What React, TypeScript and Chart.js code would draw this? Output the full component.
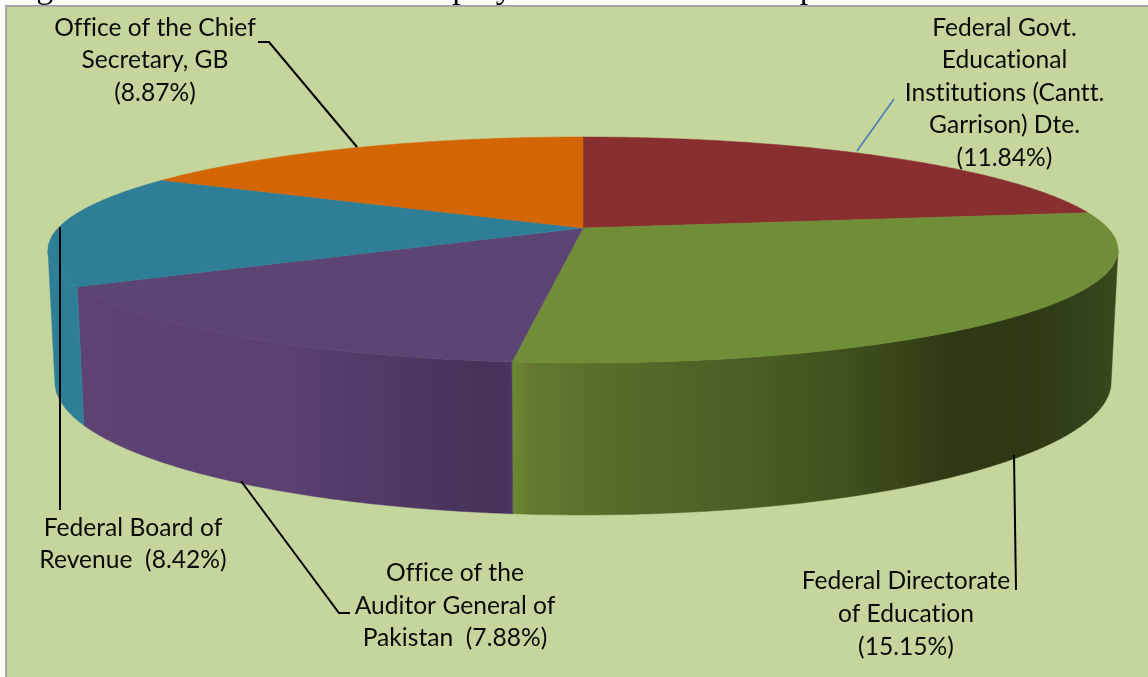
import React, { useEffect, useRef } from "react";
import { Chart, registerables } from "chart.js";

Chart.register(...registerables);

const categories = [
  "Federal Govt. Educational Institutions (Cantt. Garrison) Dte.",
  "Federal Directorate of Education",
  "Office of the Auditor General of Pakistan",
  "Federal Board of Revenue",
  "Office of the Chief Secretary, GB",
];
const shares = [11.84, 15.15, 7.88, 8.42, 8.87];
const topColors = ["#8a2f30", "#708d37", "#5c4474", "#2f7e98", "#d36503"];
const wallStops: [number, string][][] = [
  [[0, "#6a2222"], [1, "#6a2222"]],
  [[0, "#6c8a32"], [0.03, "#64792f"], [0.18, "#566b2a"], [0.39, "#4b5e25"], [0.56, "#3f4f1d"], [0.72, "#2e3a14"], [0.85, "#2c3914"], [0.97, "#36451a"], [1, "#3a4a1c"]],
  [[0, "#5c4374"], [0.5, "#5a4170"], [0.65, "#523b68"], [0.97, "#463258"], [1, "#4d3566"]],
  [[0, "#2f7e98"], [1, "#2f7e98"]],
  [[0, "#a04c02"], [1, "#a04c02"]],
];

type Note = { lines: string[]; cx: number; y: number; lh: number; color: string; path: number[][] };
const notes: Note[] = [
  { lines: ["Federal Govt.", "Educational", "Institutions (Cantt.", "Garrison) Dte.", "(11.84%)"], cx: 1004.5, y: 35.5, lh: 32.6, color: "#4a7ebb", path: [[894, 99], [857, 151]] },
  { lines: ["Federal Directorate", "of Education", "(15.15%)"], cx: 906, y: 589, lh: 33, color: "#000000", path: [[1014, 455], [1016, 590]] },
  { lines: ["Office of the", "Auditor General of", "Pakistan  (7.88%)"], cx: 455, y: 581, lh: 32.5, color: "#000000", path: [[241, 481], [339, 613], [350, 613]] },
  { lines: ["Federal Board of", "Revenue  (8.42%)"], cx: 133, y: 536, lh: 32.3, color: "#000000", path: [[60, 227], [60, 510]] },
  { lines: ["Office of the Chief", "Secretary, GB", "(8.87%)"], cx: 155, y: 35.5, lh: 32.6, color: "#000000", path: [[258, 42], [269, 42], [357, 147]] },
];
const headingWords: [string, number][] = [["Figure", 8], ["Employees", 405], ["Department", 760]];

const BG = "#c4d69c";
const CX = 583;
const K = -0.1946;
const TOP = { a: 524.8, b: 108.7, y0: 228 };
const BOTTOM = { a: 518, b: 128, y0: 356 };
const FONT = "24.6px Lato";

const project = (disc: { a: number; b: number; y0: number }, t: number) => {
  const u = Math.cos(t);
  const v = Math.sin(t);
  const w = 1 + K * v;
  return [CX + (disc.a * u) / w, disc.y0 + (disc.b * v) / w];
};

const pie3d = {
  id: "pie3d",
  beforeDraw(chart: any) {
    const { ctx, width, height } = chart;
    ctx.save();
    ctx.fillStyle = "#ffffff";
    ctx.fillRect(0, 0, width, height);
    ctx.fillStyle = "#a6a6a6";
    ctx.fillRect(5, 5, width - 5, height - 5);
    ctx.fillStyle = BG;
    ctx.fillRect(7, 7, width - 7, height - 7);
    ctx.fillStyle = "#000000";
    ctx.font = '34px "Liberation Serif"';
    ctx.textAlign = "left";
    ctx.textBaseline = "alphabetic";
    ctx.beginPath();
    ctx.rect(0, 0, width, 5.5);
    ctx.clip();
    headingWords.forEach(([w, x]) => ctx.fillText(w, x, -2.5));
    ctx.restore();
  },
  beforeDatasetsDraw(chart: any) {
    const { ctx } = chart;
    const arcs = chart.getDatasetMeta(0).data;
    const silhouette = Math.asin(-K);
    const wallFrom = silhouette;
    const wallTo = Math.PI - silhouette;
    const step = Math.PI / 360;

    ctx.save();
    arcs.forEach((arc: any, i: number) => {
      const { startAngle, endAngle } = arc.getProps(["startAngle", "endAngle"], true);
      const s = Math.max(startAngle, wallFrom);
      const e = Math.min(endAngle, wallTo);
      if (e <= s) return;
      const top: number[][] = [];
      const bot: number[][] = [];
      for (let t = s; t < e; t += step) {
        top.push(project(TOP, t));
        bot.push(project(BOTTOM, t));
      }
      top.push(project(TOP, e));
      bot.push(project(BOTTOM, e));
      const xs = top.concat(bot).map((p) => p[0]);
      const grad = ctx.createLinearGradient(Math.min(...xs), 0, Math.max(...xs), 0);
      wallStops[i].forEach(([o, c]) => grad.addColorStop(o, c));
      ctx.beginPath();
      top.forEach((p, n) => (n ? ctx.lineTo(p[0], p[1]) : ctx.moveTo(p[0], p[1])));
      bot.reverse().forEach((p) => ctx.lineTo(p[0], p[1]));
      ctx.closePath();
      ctx.fillStyle = grad;
      ctx.strokeStyle = grad;
      ctx.lineWidth = 0.5;
      ctx.fill();
      ctx.stroke();
    });

    arcs.forEach((arc: any, i: number) => {
      const { startAngle, endAngle } = arc.getProps(["startAngle", "endAngle"], true);
      ctx.beginPath();
      ctx.moveTo(CX, TOP.y0);
      for (let t = startAngle; t < endAngle; t += step) {
        const p = project(TOP, t);
        ctx.lineTo(p[0], p[1]);
      }
      const last = project(TOP, endAngle);
      ctx.lineTo(last[0], last[1]);
      ctx.closePath();
      ctx.fillStyle = topColors[i];
      ctx.strokeStyle = topColors[i];
      ctx.lineWidth = 0.5;
      ctx.fill();
      ctx.stroke();
    });
    ctx.restore();
    return false;
  },
  afterDraw(chart: any) {
    const { ctx } = chart;
    ctx.save();
    notes.forEach((n) => {
      ctx.beginPath();
      n.path.forEach((p, k) => (k ? ctx.lineTo(p[0], p[1]) : ctx.moveTo(p[0], p[1])));
      ctx.strokeStyle = n.color;
      ctx.lineWidth = n.color === "#000000" ? 2 : 1.6;
      ctx.stroke();
      ctx.fillStyle = "#0a0a0a";
      ctx.font = FONT;
      ctx.letterSpacing = "0.01px";
      ctx.textAlign = "center";
      ctx.textBaseline = "alphabetic";
      n.lines.forEach((l, k) => ctx.fillText(l, n.cx, n.y + k * n.lh));
    });
    ctx.restore();
  },
};

export default function App() {
  const ref = useRef<HTMLCanvasElement | null>(null);
  useEffect(() => {
    document.body.style.margin = "0";
    const chart = new Chart(ref.current as HTMLCanvasElement, {
      type: "pie",
      data: {
        labels: categories,
        datasets: [{ data: shares, backgroundColor: topColors, borderWidth: 0 }],
      },
      options: {
        animation: false,
        responsive: false,
        plugins: { legend: { display: false }, tooltip: { enabled: false } },
      },
      plugins: [pie3d],
    } as any);
    return () => chart.destroy();
  }, []);
  return <canvas ref={ref} width={1148} height={677} style={{ display: "block" }} />;
}
